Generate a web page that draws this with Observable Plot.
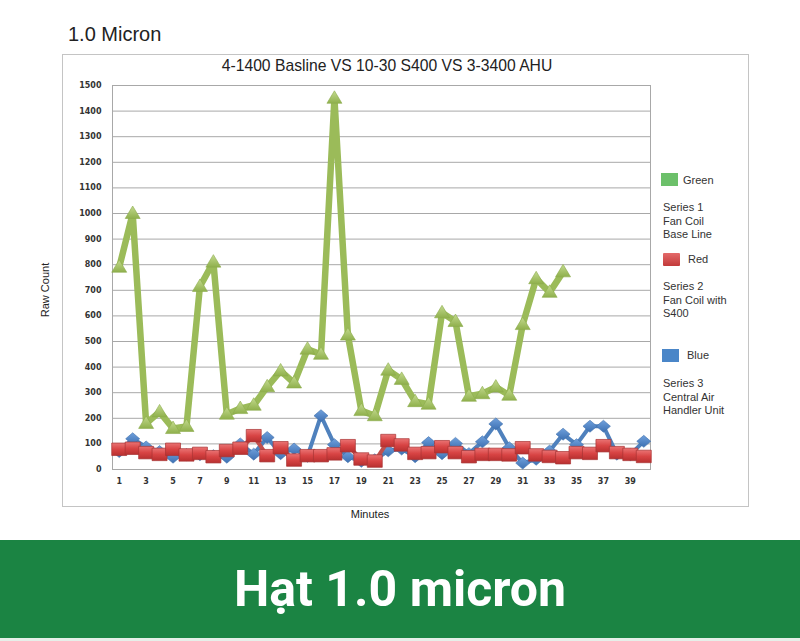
<!DOCTYPE html>
<html>
<head>
<meta charset="utf-8">
<script src="https://cdn.jsdelivr.net/npm/d3@7"></script>
<script src="https://cdn.jsdelivr.net/npm/@observablehq/plot@0.6"></script>
<style>
  html, body { margin: 0; padding: 0; background: #fff; }
  #page { position: relative; width: 800px; height: 641px; overflow: hidden; font-family: "Liberation Sans", Arial, sans-serif; }
  .abs { position: absolute; white-space: nowrap; }
  #box { left: 62px; top: 54px; width: 685px; height: 451px; border: 1.5px solid #c4c4c4; box-sizing: content-box; }
  #plotwrap { position: absolute; left: 62px; top: 54px; }
  .leg { font-size: 11px; color: #333; line-height: 13.5px; }
  .sw { position: absolute; width: 17px; height: 13px; }
  #footer { position: absolute; left: 0; top: 540px; width: 800px; height: 98px; background: #1b8443; display: flex; align-items: center; justify-content: center; color: #fff; font-family: Roboto, sans-serif; font-weight: bold; font-size: 50px; }
  #footline { position: absolute; left: 0; top: 638px; width: 800px; height: 3px; background: #e6efe9; }
</style>
</head>
<body>
<div id="page">
  <div class="abs" style="left:68px; top:23px; font-size:20px; color:#222;">1.0 Micron</div>
  <div class="abs" id="box"></div>
  <div class="abs" style="left:387px; top:57px; transform:translateX(-50%); font-size:15.7px; color:#222;">4-1400 Basline VS 10-30 S400 VS 3-3400 AHU</div>
  <div id="plotwrap"></div>
  <div class="abs" style="left:45px; top:290px; transform:translate(-50%,-50%) rotate(-90deg); font-size:11px; color:#222;">Raw Count</div>
  <div class="abs" style="left:370px; top:508px; transform:translateX(-50%); font-size:11px; color:#222;">Minutes</div>

  <div class="sw" style="left:661px; top:173px; background:#6cc06a;"></div>
  <div class="abs leg" style="left:683px; top:174px;">Green</div>
  <div class="abs leg" style="left:663px; top:201px;">Series 1<br>Fan Coil<br>Base Line</div>

  <div class="sw" style="left:663px; top:253px; background:linear-gradient(#e46a6a,#c23a3a); border-radius:1px;"></div>
  <div class="abs leg" style="left:688px; top:253px;">Red</div>
  <div class="abs leg" style="left:663px; top:280px;">Series 2<br>Fan Coil with<br>S400</div>

  <div class="sw" style="left:662px; top:349px; background:#4a86c8;"></div>
  <div class="abs leg" style="left:687px; top:349px;">Blue</div>
  <div class="abs leg" style="left:663px; top:377px;">Series 3<br>Central Air<br>Handler Unit</div>

  <div id="footer">Hạt 1.0 micron</div>
  <div id="footline"></div>
</div>
<script>
// ---- data ----
const minutes = d3.range(1, 41);
const xTickLabels = [1,3,5,7,9,11,13,15,17,19,21,23,25,27,29,31,33,35,37,39];
const yTickLabels = [0,100,200,300,400,500,600,700,800,900,1000,1100,1200,1300,1400,1500];
// Series 1 – Fan Coil Base Line (green), minutes 1–34
const seriesGreen = [790,1000,180,225,160,168,715,810,216,238,251,323,385,338,470,450,1450,525,230,210,388,352,265,255,612,578,286,296,322,290,566,745,692,772];
// Series 2 – Fan Coil with S400 (red), minutes 1–40
const seriesRed = [78,82,65,58,78,56,62,49,73,82,131,53,84,36,53,53,60,92,40,32,112,95,62,65,88,65,49,58,58,56,84,56,50,45,65,62,92,65,58,50];
// Series 3 – Central Air Handler Unit (blue), minutes 1–40
const seriesBlue = [70,120,88,70,48,58,58,54,48,100,60,125,62,80,52,210,97,50,32,38,73,80,50,105,62,102,62,108,178,85,25,40,72,138,97,169,169,60,58,110];

const toRows = (vals) => vals.map((v, i) => ({minute: minutes[i], value: v}));
const greenRows = toRows(seriesGreen);
const redRows = toRows(seriesRed);
const blueRows = toRows(seriesBlue);

// marker shapes
const triSym = {draw(ctx) { ctx.moveTo(0, -7.5); ctx.lineTo(7.5, 5); ctx.lineTo(-7.5, 5); ctx.closePath(); }};
const sqSym = {draw(ctx) { ctx.moveTo(-7.5, -6.5); ctx.lineTo(7.5, -6.5); ctx.lineTo(7.5, 6); ctx.lineTo(-7.5, 6); ctx.closePath(); }};
const diaSym = {draw(ctx) { ctx.moveTo(0, -6); ctx.lineTo(7, 0); ctx.lineTo(0, 6); ctx.lineTo(-7, 0); ctx.closePath(); }};

const chart = Plot.plot({
  width: 686,
  height: 452,
  marginLeft: 50,
  marginRight: 98,
  marginTop: 31,
  marginBottom: 37,
  style: {background: "transparent", fontFamily: "DejaVu Sans", fontSize: "8px", fontWeight: "bold", color: "#333", overflow: "visible"},
  x: {type: "point", domain: minutes, padding: 0.5, round: false, label: null},
  y: {domain: [0, 1500], label: null},
  marks: [
    Plot.gridY(yTickLabels, {stroke: "#a8a8a8", strokeOpacity: 1}),
    Plot.frame({stroke: "#a8a8a8"}),
    Plot.axisY(yTickLabels, {tickSize: 0, tickPadding: 11, tickFormat: "d", label: null}),
    Plot.axisX(xTickLabels, {tickSize: 0, tickPadding: 9, label: null}),
    Plot.line(blueRows, {x: "minute", y: "value", stroke: "#4f81bd", strokeWidth: 4, strokeLinejoin: "round"}),
    Plot.dot(blueRows, {x: "minute", y: "value", symbol: diaSym, r: 5, fill: "url(#gBlue)", stroke: "#3f70ad", strokeWidth: 0.6}),
    Plot.line(redRows, {x: "minute", y: "value", stroke: "#c0504d", strokeWidth: 4, strokeLinejoin: "round"}),
    Plot.dot(redRows, {x: "minute", y: "value", symbol: sqSym, r: 5, fill: "url(#gRed)", stroke: "#a83434", strokeWidth: 0.7}),
    Plot.line(greenRows, {x: "minute", y: "value", stroke: "#9bbb59", strokeWidth: 6.5, strokeLinejoin: "round"}),
    Plot.dot(greenRows, {x: "minute", y: "value", symbol: triSym, r: 5, fill: "url(#gGreen)", stroke: "#8cab4c", strokeWidth: 0.6})
  ]
});

chart.insertAdjacentHTML("afterbegin", `
<defs>
  <linearGradient id="gGreen" x1="0" y1="0" x2="0" y2="1">
    <stop offset="0" stop-color="#c3da8e"/><stop offset="1" stop-color="#8fb04c"/>
  </linearGradient>
  <linearGradient id="gRed" x1="0" y1="0" x2="0" y2="1">
    <stop offset="0" stop-color="#ea7373"/><stop offset="0.5" stop-color="#d84444"/><stop offset="1" stop-color="#b83030"/>
  </linearGradient>
  <linearGradient id="gBlue" x1="0" y1="0" x2="0" y2="1">
    <stop offset="0" stop-color="#6fa0dc"/><stop offset="1" stop-color="#3d70b2"/>
  </linearGradient>
</defs>`);

document.getElementById("plotwrap").appendChild(chart);
</script>
</body>
</html>
